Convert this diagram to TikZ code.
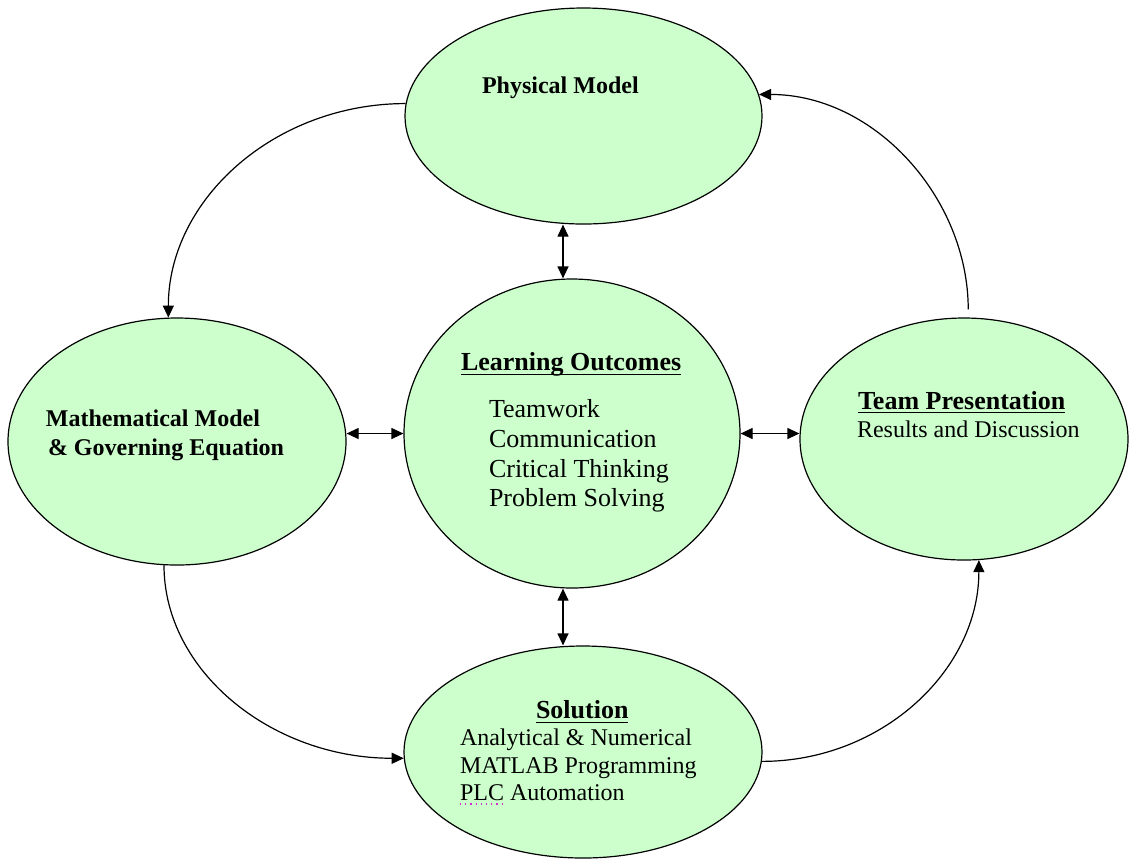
\documentclass[tikz,border=0pt]{standalone}
\usepackage{fontspec}
\setmainfont{Liberation Serif}
\usetikzlibrary{shapes.geometric,arrows.meta}
\definecolor{bub}{HTML}{CCFFCC}
\definecolor{spell}{HTML}{CC33CC}
\newlength\ulw
\newcommand\myul[2][2.4pt]{\settowidth\ulw{#2}\rlap{\rule[-#1]{\ulw}{0.6pt}}#2}
\tikzset{
  bubble/.style={ellipse, draw=black, line width=0.6pt, fill=bub, inner sep=0pt},
  txt/.style={anchor=base west, inner sep=0pt, outer sep=0pt},
  big/.style={font=\fontsize{13}{15}\selectfont},
  bigb/.style={font=\bfseries\fontsize{13}{15}\selectfont},
  nrm/.style={font=\fontsize{12}{14}\selectfont},
  nrmb/.style={font=\bfseries\fontsize{12}{14}\selectfont},
  link/.style={line width=0.6pt, -{Triangle[length=6pt,width=5.5pt]}},
  dbl/.style={line width=0.6pt, {Triangle[length=6pt,width=5.5pt]}-{Triangle[length=6pt,width=5.5pt]}}
}
\begin{document}
\begin{tikzpicture}[x=0.5pt,y=-0.5pt]
\useasboundingbox (0,0) rectangle (1130,859);
% bubbles
\node[bubble, minimum width=178.5pt, minimum height=108pt] (phys) at (583.5,116) {};
\node[bubble, minimum width=169pt, minimum height=123.5pt] (math) at (177,441.5) {};
\node[bubble, minimum width=168pt, minimum height=154.5pt] (learn) at (572,433.5) {};
\node[bubble, minimum width=164pt, minimum height=121pt] (team) at (964,439) {};
\node[bubble, minimum width=179pt, minimum height=106pt] (sol) at (583,752) {};
% texts
\node[txt, nrmb] (physT) at (482,93) {Physical Model};
\node[txt, nrmb] (mathT1) at (46,426) {Mathematical Model};
\node[txt, nrmb] (mathT2) at (48,455) {\&\ Governing Equation};
\node[txt, bigb] (learnT) at (461,370) {\myul{Learning Outcomes}};
\node[txt, big] (l1) at (489,417) {Teamwork};
\node[txt, big] (l2) at (489,447) {Communication};
\node[txt, big] (l3) at (489,477) {Critical Thinking};
\node[txt, big] (l4) at (489,506) {Problem Solving};
\node[txt, bigb] (teamT) at (858,409) {\myul[2pt]{Team Presentation}};
\node[txt, nrm] (team1) at (857,437) {Results and Discussion};
\node[txt, bigb] (solT) at (536,718) {\myul{Solution}};
\node[txt, nrm] (s1) at (460,745) {Analytical \& Numerical};
\node[txt, nrm] (s2) at (460,773) {MATLAB Programming};
\node[txt, nrm] (plc) at (460,800) {PLC Automation};
\draw[spell, dotted, line width=0.6pt] ([yshift=-2pt]plc.base west) -- ++(43,0);
% cycle connectors
\draw[link] (phys.176) .. controls +(-131,0) and +(0,-118) .. (math.94);
\draw[link] (math.264) .. controls +(0,106) and +(-132,0) .. (sol.182);
\draw[link] (sol.357) .. controls +(120,0) and +(0,110) .. (team.277);
\draw[link, shorten <=4pt] (team.88) .. controls +(0,-119) and +(116,0) .. (phys.7);
% double arrows
\coordinate (vx) at (563,0);
\draw[dbl] (vx |- phys.south) -- (vx |- learn.north);
\draw[dbl] (vx |- learn.south) -- (vx |- sol.north);
\draw[dbl] (math.east |- learn.west) -- (learn.west);
\draw[dbl] (learn.east) -- (team.west |- learn.east);
\end{tikzpicture}
\end{document}
